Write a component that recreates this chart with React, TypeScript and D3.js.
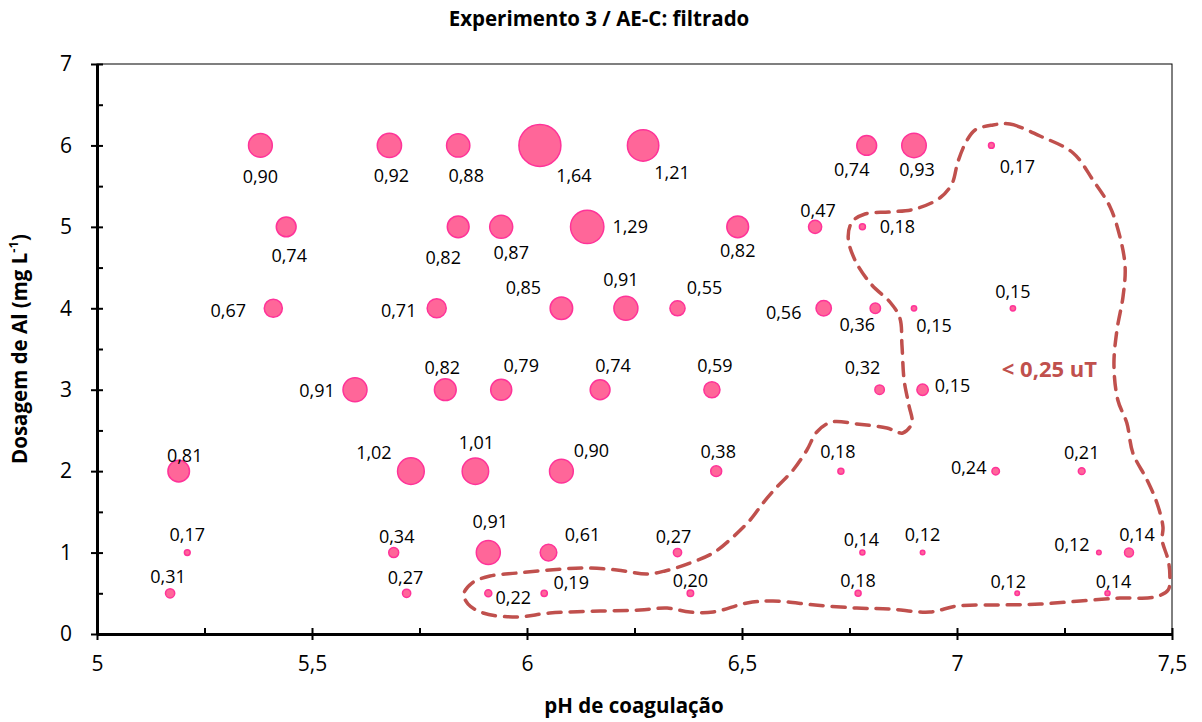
import React, { useEffect, useRef } from "react";
import * as d3 from "d3";

// dose levels (mg/L Al) and, per level, the coagulation pH of each test
const doseLevels = [6, 5, 4, 3, 2, 1, 0.5];
const phByDose = [
  [5.38, 5.68, 5.84, 6.03, 6.27, 6.79, 6.9, 7.08],
  [5.44, 5.84, 5.94, 6.14, 6.49, 6.67, 6.78],
  [5.41, 5.79, 6.08, 6.23, 6.35, 6.69, 6.81, 6.9, 7.13],
  [5.6, 5.81, 5.94, 6.17, 6.43, 6.82, 6.92],
  [5.19, 5.73, 5.88, 6.08, 6.44, 6.73, 7.09, 7.29],
  [5.21, 5.69, 5.91, 6.05, 6.35, 6.78, 6.92, 7.33, 7.4],
  [5.17, 5.72, 5.91, 6.04, 6.38, 6.77, 7.14, 7.35],
];
// filtered turbidity (uT) printed next to each bubble
const turbidityByDose = [
  [0.9, 0.92, 0.88, 1.64, 1.21, 0.74, 0.93, 0.17],
  [0.74, 0.82, 0.87, 1.29, 0.82, 0.47, 0.18],
  [0.67, 0.71, 0.85, 0.91, 0.55, 0.56, 0.36, 0.15, 0.15],
  [0.91, 0.82, 0.79, 0.74, 0.59, 0.32, 0.15],
  [0.81, 1.02, 1.01, 0.9, 0.38, 0.18, 0.24, 0.21],
  [0.17, 0.34, 0.91, 0.61, 0.27, 0.14, 0.12, 0.12, 0.14],
  [0.31, 0.27, 0.22, 0.19, 0.2, 0.18, 0.12, 0.14],
];
// bubble size value (same as turbidity except two points drawn bigger)
const bubbleSizeByDose = [
  [0.9, 0.92, 0.88, 1.64, 1.21, 0.74, 0.93, 0.17],
  [0.74, 0.82, 0.87, 1.29, 0.82, 0.47, 0.18],
  [0.67, 0.71, 0.85, 0.91, 0.55, 0.56, 0.36, 0.15, 0.15],
  [0.91, 0.82, 0.79, 0.74, 0.59, 0.32, 0.4],
  [0.81, 1.02, 1.01, 0.9, 0.38, 0.18, 0.24, 0.21],
  [0.17, 0.34, 0.91, 0.61, 0.27, 0.14, 0.12, 0.12, 0.3],
  [0.31, 0.27, 0.22, 0.19, 0.2, 0.18, 0.12, 0.14],
];

const xTicks = [5, 5.5, 6, 6.5, 7, 7.5];
const xMinorTicks = [5.25, 5.75, 6.25, 6.75, 7.25];
const yTicks = [0, 1, 2, 3, 4, 5, 6, 7];
const yMinorTicks = [0.5, 1.5, 2.5, 3.5, 4.5, 5.5, 6.5];

// hand drawn "< 0,25 uT" region, in (pH, dose)
const contourPh = [
  7.084, 7.123, 7.193, 7.27, 7.316, 7.356, 7.379, 7.391, 7.386, 7.372, 7.365, 7.374, 7.395, 7.409,
  7.442, 7.465, 7.479, 7.477, 7.491, 7.495, 7.491, 7.46, 7.379, 7.286, 7.193, 7.1, 7.0, 6.937,
  6.844, 6.767, 6.67, 6.572, 6.512, 6.433, 6.379, 6.326, 6.263, 6.17, 6.053, 5.977, 5.898, 5.863,
  5.853, 5.872, 5.914, 5.977, 6.053, 6.13, 6.209, 6.279, 6.321, 6.379, 6.433, 6.479, 6.519, 6.549,
  6.581, 6.619, 6.651, 6.674, 6.709, 6.767, 6.837, 6.874, 6.895, 6.888, 6.877, 6.872, 6.867, 6.844,
  6.802, 6.765, 6.747, 6.756, 6.786, 6.844, 6.902, 6.96, 6.988, 7.002, 7.021, 7.042,
];
const contourDose = [
  6.251, 6.263, 6.116, 5.907, 5.576, 5.244, 4.876, 4.507, 4.139, 3.733, 3.304, 2.874, 2.591, 2.223,
  1.891, 1.609, 1.314, 1.154, 0.909, 0.725, 0.54, 0.454, 0.442, 0.405, 0.368, 0.356, 0.344, 0.27,
  0.307, 0.319, 0.356, 0.405, 0.381, 0.27, 0.27, 0.319, 0.295, 0.282, 0.258, 0.209, 0.258, 0.368,
  0.491, 0.626, 0.712, 0.749, 0.786, 0.811, 0.786, 0.737, 0.774, 0.872, 0.995, 1.191, 1.4, 1.609,
  1.805, 2.014, 2.26, 2.481, 2.604, 2.579, 2.53, 2.469, 2.591, 2.812, 3.119, 3.549, 3.881, 4.077,
  4.286, 4.568, 4.863, 5.06, 5.158, 5.183, 5.219, 5.354, 5.526, 5.797, 6.042, 6.19,
];

// label placement around each bubble, in px (layout only)
const labelOffsets = [
  [[0, 31], [2, 30], [8, 30], [34, 30], [29, 27], [-15, 24], [3, 24], [26, 21]],
  [[3, 29], [-15, 31], [10, 26], [43, 0], [0, 24], [3, -16], [35, 0]],
  [[-45, 2], [-38, 2], [-38, -21], [-5, -29], [27, -21], [-40, 4], [-18, 16], [20, 17], [0, -17]],
  [[-38, 1], [-3, -22], [20, -24], [13, -24], [3, -24], [-17, -22], [30, -4]],
  [[6, -16], [-37, -19], [1, -29], [30, -21], [2, -20], [-3, -20], [-27, -4], [0, -19]],
  [[0, -18], [3, -16], [2, -31], [34, -18], [-4, -16], [-1, -13], [0, -18], [-27, -8], [8, -18]],
  [[-2, -17], [-1, -16], [25, 4], [27, -11], [0, -13], [0, -13], [-9, -12], [6, -12]],
];

const FONT = "'Open Sans', 'Noto Sans', sans-serif";
const width = 1202;
const height = 722;
const margin = { top: 64, right: 30, bottom: 88, left: 97 };

const comma = (v: number, f: string) => d3.format(f)(v).replace(".", ",");

export default function App() {
  const ref = useRef<SVGSVGElement>(null);

  useEffect(() => {
    const svg = d3.select(ref.current);
    svg.selectAll("*").remove();

    const x = d3.scaleLinear().domain([5, 7.5]).range([margin.left, width - margin.right]);
    const y = d3.scaleLinear().domain([0, 7]).range([height - margin.bottom, margin.top]);
    const r = d3.scaleLinear().domain([0, 1.64]).range([0.8, 21]);

    svg.append("rect").attr("width", width).attr("height", height).attr("fill", "#fff");

    // thin plot frame
    svg.append("rect")
      .attr("x", x(5)).attr("y", y(7))
      .attr("width", x(7.5) - x(5)).attr("height", y(0) - y(7))
      .attr("fill", "none").attr("stroke", "#000").attr("stroke-width", 1);

    // title
    svg.append("text")
      .attr("x", 599).attr("y", 26)
      .attr("text-anchor", "middle")
      .attr("font-family", FONT).attr("font-weight", "bold").attr("font-size", 20.5)
      .text("Experimento 3 / AE-C: filtrado");

    // x axis
    const gx = svg.append("g").attr("transform", `translate(0,${y(0)})`);
    gx.call(d3.axisBottom(x).tickValues(xMinorTicks).tickSizeInner(-6).tickSizeOuter(0).tickFormat(() => ""));
    gx.select(".domain").remove();
    gx.selectAll(".tick line").attr("stroke-width", 2);
    const gxMajor = svg.append("g").attr("transform", `translate(0,${y(0)})`)
      .call(d3.axisBottom(x).tickValues(xTicks).tickSizeOuter(0).tickFormat((d) => comma(+d, "")));
    gxMajor.select(".domain").attr("stroke-width", 3);
    gxMajor.selectAll(".tick line").attr("y1", -6).attr("y2", 6).attr("stroke-width", 2);
    gxMajor.selectAll(".tick text")
      .attr("y", 22).attr("font-family", FONT).attr("font-size", 21).attr("fill", "#000");

    // y axis
    const gy = svg.append("g").attr("transform", `translate(${x(5)},0)`);
    gy.call(d3.axisLeft(y).tickValues(yMinorTicks).tickSizeInner(-6).tickSizeOuter(0).tickFormat(() => ""));
    gy.select(".domain").remove();
    gy.selectAll(".tick line").attr("stroke-width", 2);
    const gyMajor = svg.append("g").attr("transform", `translate(${x(5)},0)`)
      .call(d3.axisLeft(y).tickValues(yTicks).tickSizeOuter(0).tickFormat((d) => String(d)));
    gyMajor.select(".domain").attr("stroke-width", 3);
    gyMajor.selectAll(".tick line").attr("x1", -6).attr("x2", 6).attr("stroke-width", 2);
    gyMajor.selectAll(".tick text")
      .attr("x", -25).attr("font-family", FONT).attr("font-size", 21).attr("fill", "#000");

    // axis titles
    svg.append("text")
      .attr("x", 634).attr("y", 713)
      .attr("text-anchor", "middle")
      .attr("font-family", FONT).attr("font-weight", "bold").attr("font-size", 20.5)
      .text("pH de coagulação");

    const yTitle = svg.append("text")
      .attr("transform", `translate(27,349) rotate(-90)`)
      .attr("text-anchor", "middle")
      .attr("font-family", FONT).attr("font-weight", "bold").attr("font-size", 20.5);
    yTitle.append("tspan").text("Dosagem de Al (mg L");
    yTitle.append("tspan").attr("baseline-shift", "super").attr("font-size", 13).text("-1");
    yTitle.append("tspan").text(")");

    // flatten rows into points
    const points = doseLevels.flatMap((dose, i) =>
      phByDose[i].map((ph, j) => ({
        ph,
        dose,
        turb: turbidityByDose[i][j],
        size: bubbleSizeByDose[i][j],
        off: labelOffsets[i][j],
      }))
    );

    // bubbles
    svg.append("g")
      .selectAll("circle")
      .data([...points].sort((a, b) => b.size - a.size))
      .join("circle")
      .attr("cx", (d) => x(d.ph))
      .attr("cy", (d) => y(d.dose))
      .attr("r", (d) => r(d.size))
      .attr("fill", "#ff6699")
      .attr("stroke", "#ff3399")
      .attr("stroke-width", 1.5);

    // value labels
    svg.append("g")
      .selectAll("text")
      .data(points)
      .join("text")
      .attr("x", (d) => x(d.ph) + d.off[0])
      .attr("y", (d) => y(d.dose) + d.off[1])
      .attr("dy", "0.36em")
      .attr("text-anchor", "middle")
      .attr("font-family", FONT)
      .attr("font-size", 18)
      .attr("fill", "#000")
      .text((d) => comma(d.turb, ".2f"));

    // < 0,25 uT region
    const contour = contourPh.map((p, i) => [p, contourDose[i]] as [number, number]);
    const line = d3.line<[number, number]>()
      .x((d) => x(d[0]))
      .y((d) => y(d[1]))
      .curve(d3.curveCatmullRomClosed.alpha(0.5));
    svg.append("path")
      .attr("d", line(contour))
      .attr("fill", "none")
      .attr("stroke", "#c0504d")
      .attr("stroke-width", 3.5)
      .attr("stroke-linecap", "round")
      .attr("stroke-dasharray", "13 9");

    svg.append("text")
      .attr("x", x(7.215)).attr("y", y(3.254))
      .attr("dy", "0.36em")
      .attr("text-anchor", "middle")
      .attr("font-family", FONT).attr("font-weight", "bold").attr("font-size", 22)
      .attr("fill", "#c0504d")
      .text("< 0,25 uT");
  }, []);

  return (
    <svg
      ref={ref}
      width={width}
      height={height}
      style={{ position: "absolute", left: 0, top: 0, display: "block" }}
    />
  );
}
